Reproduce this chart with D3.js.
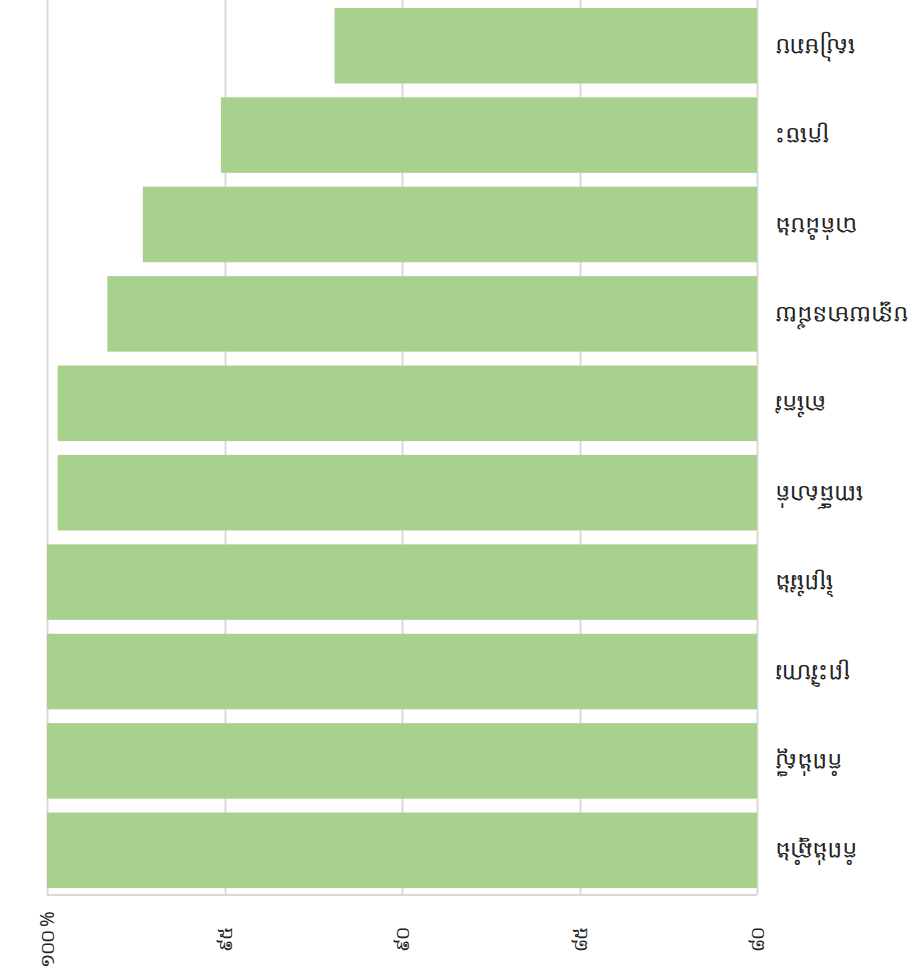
<!DOCTYPE html>
<html>
<head>
<meta charset="utf-8">
<script src="https://cdn.jsdelivr.net/npm/d3@7"></script>
<style>
  body { margin: 0; background: #fff; }
  text { font-family: "Noto Sans", "DejaVu Sans", sans-serif; }
</style>
</head>
<body>
<svg id="chart" width="913" height="977"></svg>
<script>
// categories, top to bottom (labels are drawn upside down, as in the picture)
var categories = ["សៀមរាប", "ក្រចេះ", "បាត់ដំបង", "បន្ទាយមានជ័យ", "តាកែវ",
                  "ពោធិ៍សាត់", "ព្រៃវែង", "ព្រះវិហារ", "កំពង់ស្ពឺ", "កំពង់ឆ្នាំង"];
var values = [91.9, 95.1, 97.3, 98.3, 99.7, 99.7, 100, 100, 100, 100];
var tickValues = [80, 85, 90, 95, 100];
var tickLabels = ["៨០", "៨៥", "៩០", "៩៥", "១០០ %"];

var svg = d3.select("#chart");

var x = d3.scaleLinear().domain([80, 100]).range([757, 47]);
var y = d3.scaleBand().domain(categories).range([1, 895])
    .paddingInner(0.155).paddingOuter(0.0775);

// grid
svg.append("g").selectAll("line")
    .data(tickValues)
    .enter().append("line")
    .attr("x1", function(d) { return Math.round(x(d)) + 0.5; })
    .attr("x2", function(d) { return Math.round(x(d)) + 0.5; })
    .attr("y1", 0)
    .attr("y2", 895)
    .attr("stroke", "#d9d9d9")
    .attr("stroke-width", 2);

svg.append("line")
    .attr("x1", x(100)).attr("x2", x(80))
    .attr("y1", 895).attr("y2", 895)
    .attr("stroke", "#d9d9d9").attr("stroke-width", 2);

// bars
svg.append("g").selectAll("rect")
    .data(values)
    .enter().append("rect")
    .attr("x", function(d) { return x(d); })
    .attr("width", function(d) { return x(80) - x(d); })
    .attr("y", function(d, i) { return y(categories[i]); })
    .attr("height", y.bandwidth())
    .attr("fill", "#a9d18e");

// category labels, upside down
svg.append("g").selectAll("text")
    .data(categories)
    .enter().append("text")
    .attr("transform", function(d) {
        return "translate(775," + (y(d) + y.bandwidth() / 2 + 2) + ") rotate(180)";
    })
    .attr("text-anchor", "end")
    .attr("dominant-baseline", "central")
    .attr("font-size", 23)
    .attr("fill", "#222")
    .text(function(d) { return d; });

// value tick labels, rotated
svg.append("g").selectAll("text")
    .data(tickValues)
    .enter().append("text")
    .attr("transform", function(d) {
        return "translate(" + x(d) + ",940) rotate(-90)";
    })
    .attr("text-anchor", "middle")
    .attr("dominant-baseline", "central")
    .attr("font-size", 19)
    .attr("letter-spacing", -1)
    .attr("fill", "#222")
    .text(function(d, i) { return tickLabels[i]; });
</script>
</body>
</html>
